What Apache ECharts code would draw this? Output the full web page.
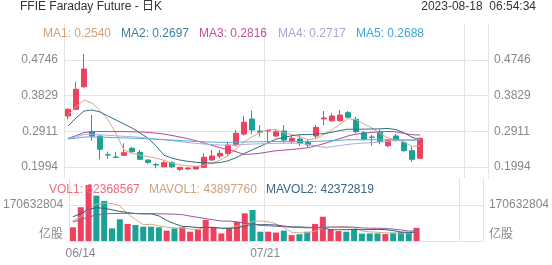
<!DOCTYPE html>
<html><head><meta charset="utf-8">
<script src="https://cdn.jsdelivr.net/npm/echarts@6/dist/echarts.min.js"></script>
<style>html,body{margin:0;padding:0;background:#fff}#c{width:552px;height:265px}</style>
</head><body><div id="c"></div>
<script>
const headerTitle = 'FFIE Faraday Future - 日K';
const headerStamp = '2023-08-18  06:54:34';
const dates = ['06/14','06/15','06/16','06/20','06/21','06/22','06/23','06/26','06/27','06/28','06/29','06/30','07/03','07/05','07/06','07/07','07/10','07/11','07/12','07/13','07/14','07/17','07/18','07/19','07/20','07/21','07/24','07/25','07/26','07/27','07/28','07/31','08/01','08/02','08/03','08/04','08/07','08/08','08/09','08/10','08/11','08/14','08/15','08/16','08/17'];
const xLabelDates = ['06/14','07/21'];
const openP  = [0.3306,0.3478,0.4059,0.2902,0.2791,0.2310,0.2250,0.2295,0.2475,0.2372,0.2174,0.2058,0.1998,0.2105,0.1935,0.1945,0.1943,0.1986,0.2174,0.2277,0.2346,0.2560,0.2840,0.3229,0.2920,0.2922,0.2791,0.2920,0.2645,0.2714,0.2621,0.2791,0.3230,0.3185,0.3185,0.3391,0.3221,0.2876,0.2765,0.2876,0.2542,0.2791,0.2619,0.2413,0.2218];
const closeP = [0.3478,0.3992,0.4514,0.2791,0.2449,0.2300,0.2243,0.2362,0.2388,0.2192,0.2115,0.2045,0.2105,0.1998,0.1986,0.1965,0.2002,0.2243,0.2277,0.2346,0.2560,0.2861,0.3145,0.2946,0.2890,0.2928,0.2902,0.2688,0.2732,0.2604,0.2560,0.3014,0.3255,0.3306,0.3331,0.3272,0.2902,0.2706,0.2758,0.2645,0.2670,0.2706,0.2413,0.2192,0.2732];
const lowP   = [0.3221,0.3450,0.4018,0.2670,0.2192,0.2208,0.2235,0.2290,0.2346,0.2180,0.2071,0.1961,0.1990,0.1960,0.1891,0.1910,0.1930,0.1975,0.2150,0.2213,0.2277,0.2516,0.2800,0.2835,0.2773,0.2645,0.2758,0.2604,0.2586,0.2534,0.2500,0.2732,0.3074,0.3150,0.3160,0.3250,0.2861,0.2670,0.2542,0.2578,0.2500,0.2645,0.2388,0.2130,0.2210];
const highP  = [0.3500,0.4188,0.4900,0.3331,0.2800,0.2393,0.2380,0.2604,0.2516,0.2431,0.2180,0.2105,0.2156,0.2140,0.1995,0.1990,0.2010,0.2346,0.2431,0.2431,0.2645,0.2946,0.3306,0.3442,0.3074,0.2940,0.2964,0.3074,0.2791,0.2817,0.2688,0.3074,0.3434,0.3383,0.3460,0.3434,0.3288,0.2920,0.2817,0.2964,0.2706,0.2843,0.2670,0.2516,0.2758];
const ma1 = [0.3335,0.3537,0.3717,0.3640,0.3445,0.3209,0.2859,0.2429,0.2348,0.2297,0.2260,0.2220,0.2169,0.2091,0.2050,0.2020,0.2011,0.2039,0.2095,0.2167,0.2286,0.2457,0.2638,0.2772,0.2880,0.2954,0.2962,0.2871,0.2828,0.2771,0.2697,0.2720,0.2833,0.2948,0.3093,0.3236,0.3213,0.3103,0.2994,0.2857,0.2736,0.2697,0.2638,0.2525,0.2540];
const ma2 = [0.3049,0.3254,0.3434,0.3460,0.3409,0.3306,0.3203,0.3100,0.2997,0.2871,0.2735,0.2540,0.2299,0.2220,0.2173,0.2140,0.2116,0.2104,0.2093,0.2108,0.2153,0.2234,0.2338,0.2433,0.2524,0.2620,0.2710,0.2754,0.2800,0.2826,0.2826,0.2841,0.2852,0.2888,0.2932,0.2966,0.2966,0.2968,0.2971,0.2975,0.2986,0.2955,0.2871,0.2760,0.2697];
const ma3 = [0.2730,0.2800,0.2880,0.2900,0.2905,0.2905,0.2905,0.2905,0.2900,0.2895,0.2885,0.2865,0.2840,0.2805,0.2765,0.2720,0.2670,0.2610,0.2550,0.2490,0.2444,0.2387,0.2319,0.2326,0.2348,0.2380,0.2413,0.2429,0.2446,0.2467,0.2489,0.2538,0.2595,0.2661,0.2728,0.2793,0.2838,0.2861,0.2885,0.2900,0.2906,0.2898,0.2861,0.2824,0.2816];
const ma4 = [0.2725,0.2768,0.2829,0.2832,0.2823,0.2810,0.2795,0.2783,0.2773,0.2756,0.2737,0.2715,0.2695,0.2672,0.2648,0.2624,0.2601,0.2585,0.2571,0.2560,0.2555,0.2560,0.2575,0.2583,0.2590,0.2597,0.2604,0.2604,0.2605,0.2602,0.2571,0.2538,0.2496,0.2514,0.2543,0.2575,0.2597,0.2609,0.2621,0.2636,0.2655,0.2677,0.2687,0.2694,0.2717];
const ma5 = [0.2713,0.2735,0.2765,0.2767,0.2763,0.2756,0.2748,0.2742,0.2737,0.2729,0.2719,0.2708,0.2698,0.2686,0.2674,0.2662,0.2650,0.2642,0.2635,0.2629,0.2627,0.2630,0.2637,0.2641,0.2644,0.2648,0.2651,0.2651,0.2652,0.2650,0.2648,0.2653,0.2662,0.2672,0.2683,0.2693,0.2696,0.2696,0.2697,0.2696,0.2695,0.2695,0.2690,0.2682,0.2688];
const volume = [65000000,160000000,265000000,215000000,190000000,60000000,103000000,81000000,76000000,68000000,68000000,65000000,49000000,60000000,65000000,44000000,55000000,100000000,65000000,36000000,60000000,91000000,131000000,147000000,44000000,44000000,40000000,49000000,28000000,32000000,44000000,81000000,115000000,55000000,47000000,44000000,55000000,35000000,36000000,36000000,33000000,40000000,42000000,40000000,62368567];
const mavol1 = [95000000,115000000,150000000,175000000,179000000,178000000,166600000,129800000,102000000,77600000,79200000,71600000,65200000,62000000,61400000,56600000,54600000,64800000,65800000,60000000,63200000,70400000,76600000,93000000,94600000,91400000,81200000,64800000,41000000,38600000,38600000,46800000,60000000,65400000,68400000,68400000,63200000,47200000,43400000,41200000,39000000,36000000,37400000,38200000,43897760];
const mavol2 = [115000000,130000000,150000000,158000000,155000000,148000000,140000000,135000000,130000000,128300000,128600000,119100000,97500000,82000000,69500000,67900000,63100000,65000000,63900000,60700000,59900000,62500000,70700000,79400000,77300000,77300000,75800000,70700000,67000000,66600000,65000000,64000000,62400000,53200000,53500000,53500000,55000000,53600000,54400000,54800000,53700000,49600000,42300000,40800000,42372819];
const mavol3 = [91000000,100000000,115000000,122000000,128000000,130000000,131000000,131000000,130000000,130000000,130000000,129000000,128000000,127000000,125000000,118000000,112000000,106000000,100000000,94500000,94300000,90800000,84100000,80700000,73400000,72600000,69500000,67900000,65500000,63700000,62500000,63300000,66600000,66300000,65400000,65400000,65400000,62200000,60700000,60700000,59400000,56800000,52400000,47000000,47900000];
const priceTicks = [0.1994, 0.2911, 0.3829, 0.4746];
const volTicks = [0, 170632804];
const volUnit = '亿股';

const UP = '#f0405f', DOWN = '#1aa296';
const GRID_C = '#e4e4e4', LABEL_C = '#888';
const FONT = '"Liberation Sans", Arial, "Noto Sans CJK SC", sans-serif';
const slotCount = 53;
const cats = dates.concat(Array(slotCount - dates.length).fill(''));
const splitIdx = (i) => i % 25 === 0;

const chart = echarts.init(document.getElementById('c'), null, {renderer: 'canvas'});
const candles = dates.map((d, i) => [openP[i], closeP[i], lowP[i], highP[i]]);
const maList = [
  {name: 'MA1', data: ma1, line: '#d9a886', text: '#cfa27e', x: 43},
  {name: 'MA2', data: ma2, line: '#2f6f86', text: '#3c7ea4', x: 121},
  {name: 'MA3', data: ma3, line: '#b34b91', text: '#bf5299', x: 199},
  {name: 'MA4', data: ma4, line: '#aab0e0', text: '#a2a8d4', x: 278},
  {name: 'MA5', data: ma5, line: '#58acd6', text: '#3fa3d3', x: 356}
];
const volLines = [
  {name: 'MAVOL1', data: mavol1, line: '#d9a886', text: '#cfa27e', x: 149},
  {name: 'MAVOL2', data: mavol2, line: '#2f5f80', text: '#3d6585', x: 266},
  {name: 'MAVOL3', data: mavol3, line: '#8e5f9e', text: null, x: null}
];

const xBase = (gi) => ({
  type: 'category', gridIndex: gi, data: cats, boundaryGap: true,
  axisLine: {show: false}, axisTick: {show: false}, axisLabel: {show: false},
  splitLine: {show: true, interval: (i) => splitIdx(i), lineStyle: {color: GRID_C, width: 1}}
});
const xVol = xBase(1);
xVol.axisLine = {show: true, lineStyle: {color: GRID_C}};
xVol.axisLabel = {
  show: true, margin: 7, color: LABEL_C, fontSize: 12, fontFamily: FONT,
  interval: (i) => xLabelDates.indexOf(cats[i]) >= 0,
  formatter: (v, i) => i === 0 ? '{l|' + v + '}' : '{c|' + v + '}',
  rich: {l: {padding: [0, 0, 0, 15], color: LABEL_C, fontSize: 12, fontFamily: FONT},
         c: {padding: [0, 6, 0, 0], color: LABEL_C, fontSize: 12, fontFamily: FONT}}
};

const yPrice = (pos, split) => ({
  type: 'value', gridIndex: 0, position: pos, min: 0.1711, max: 0.5672, scale: true,
  axisLine: {show: pos === 'right', lineStyle: {color: GRID_C}}, axisTick: {show: false, customValues: priceTicks},
  axisLabel: {customValues: priceTicks, formatter: (v) => v.toFixed(4), color: LABEL_C, fontSize: 12, fontFamily: FONT, margin: 6},
  splitLine: {show: split, lineStyle: {color: GRID_C, width: 1}}
});
const yVol = (pos, split) => ({
  type: 'value', gridIndex: 1, position: pos, min: 0, max: 298600000,
  axisLine: {show: pos === 'right', lineStyle: {color: GRID_C}}, axisTick: {show: false, customValues: volTicks},
  axisLabel: {customValues: volTicks, color: LABEL_C, fontSize: 12, fontFamily: FONT, margin: 6,
    formatter: (v) => v === 0 ? '{u|' + volUnit + '}' : String(v),
    rich: {u: {padding: [0, 0, 12, 0], color: LABEL_C, fontSize: 12, fontFamily: FONT}}},
  splitLine: {show: split, lineStyle: {color: GRID_C, width: 1}}
});

const series = [{
  type: 'candlestick', xAxisIndex: 0, yAxisIndex: 0, data: candles, barWidth: 5,
  itemStyle: {color: UP, color0: DOWN, borderColor: UP, borderColor0: DOWN, borderWidth: 1}
}];
maList.forEach(m => series.push({
  type: 'line', name: m.name, xAxisIndex: 0, yAxisIndex: 0, data: m.data, showSymbol: false, symbol: 'none',
  lineStyle: {color: m.line, width: 1}, z: 3
}));
series.push({
  type: 'bar', name: 'VOL1', xAxisIndex: 1, yAxisIndex: 2, data: volume, barWidth: 6,
  itemStyle: {color: (p) => closeP[p.dataIndex] >= openP[p.dataIndex] ? UP : DOWN}
});
volLines.forEach(m => series.push({
  type: 'line', name: m.name, xAxisIndex: 1, yAxisIndex: 2, data: m.data, showSymbol: false, symbol: 'none',
  lineStyle: {color: m.line, width: 1}, z: 3
}));

const txt = (left, top, text, fill) => ({
  type: 'text', left: left, top: top, z: 10,
  style: {text: text, fill: fill, font: '12px ' + FONT}
});
const graphic = [
  txt(20, 1, headerTitle, '#333'),
  {type: 'text', right: 16, top: 1, z: 10, style: {text: headerStamp, fill: '#333', font: '12px ' + FONT}}
];
maList.forEach(m => graphic.push(txt(m.x, 28, m.name + ': ' + m.data[m.data.length - 1].toFixed(4), m.text)));
graphic.push(txt(49, 184, 'VOL1: ' + volume[volume.length - 1], '#ee6a7e'));
volLines.forEach(m => { if (m.text) graphic.push(txt(m.x, 184, m.name + ': ' + m.data[m.data.length - 1], m.text)); });

chart.setOption({
  animation: false,
  backgroundColor: '#fff',
  grid: [
    {left: 64, right: 64, top: 24, height: 154},
    {left: 64, right: 64, top: 178, height: 63}
  ],
  xAxis: [xBase(0), xVol],
  yAxis: [yPrice('left', true), yPrice('right', false), yVol('left', true), yVol('right', false)],
  series: series,
  graphic: graphic
});
</script>
</body></html>
